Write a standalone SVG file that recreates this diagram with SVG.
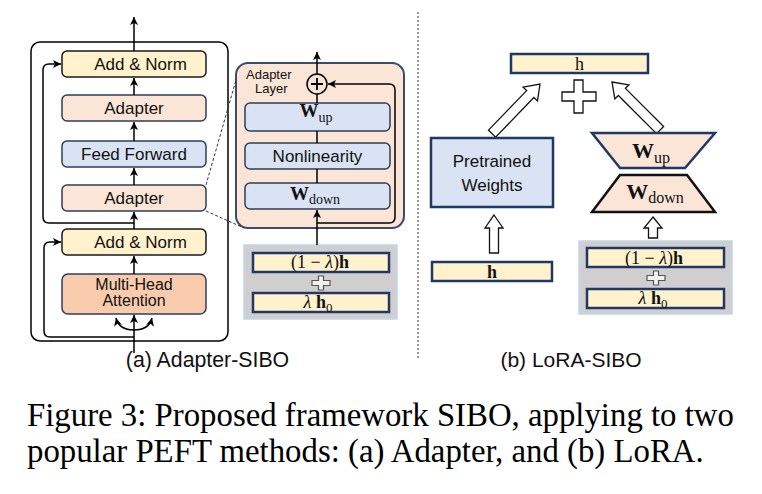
<svg xmlns="http://www.w3.org/2000/svg" width="762" height="494" viewBox="0 0 762 494">
<defs>
<marker id="ah" markerUnits="userSpaceOnUse" markerWidth="9" markerHeight="9" refX="8" refY="4" orient="auto">
<path d="M0,0 L8,4 L0,8 L2,4 z" fill="#000"/>
</marker>
</defs>
<style>
.bx{stroke:#2e3e5c;stroke-width:1.5}
.an{fill:#fff2cc;stroke:#1a1a1a;stroke-width:1.5}
.ad{fill:#fbe5d6}
.ff{fill:#dae3f3}
.t{font-family:"Liberation Sans",Arial,sans-serif;font-size:17px;fill:#111;text-anchor:middle}
.sub{font-family:"Liberation Sans",Arial,sans-serif;font-size:21.3px;fill:#111;text-anchor:middle}
.al{font-family:"Liberation Sans",Arial,sans-serif;font-size:13px;fill:#111}
.m{font-family:"Liberation Serif","Times New Roman",serif;fill:#111;text-anchor:middle}
.ln{fill:none;stroke:#000;stroke-width:1.5}
.hb{fill:#fff2cc;stroke:#203864;stroke-width:2.5}
.gr{fill:#d0cece;stroke:#bdd7ee;stroke-width:1.5}
.ho{fill:#fff;stroke:#111;stroke-width:1.3}
.pl{fill:#f2f2f2;stroke:#555;stroke-width:1.2}
.cap{font-family:"Liberation Serif","Times New Roman",serif;font-size:32.8px;fill:#000}
</style>
<rect width="762" height="494" fill="#fff"/>

<g id="adapter-block">
<rect x="31" y="42" width="197" height="299" rx="9" fill="none" stroke="#000" stroke-width="1.5"/>
</g>

<g id="add-norm-top">
<rect class="an" x="62" y="51" width="144" height="26" rx="5"/>
<text class="t" x="140.5" y="70">Add &amp; Norm</text>
</g>
<g id="adapter-top">
<rect class="bx ad" x="62" y="95" width="144" height="26" rx="5"/>
<text class="t" x="134" y="114">Adapter</text>
</g>
<g id="feed-forward">
<rect class="bx ff" x="62" y="141" width="144" height="26" rx="5"/>
<text class="t" x="134" y="160">Feed Forward</text>
</g>
<g id="adapter-bottom">
<rect class="bx ad" x="62" y="185" width="144" height="26" rx="5"/>
<text class="t" x="134" y="204">Adapter</text>
</g>
<g id="add-norm-bottom">
<rect class="an" x="62" y="229" width="144" height="26" rx="5"/>
<text class="t" x="140.5" y="248">Add &amp; Norm</text>
</g>
<g id="multi-head-attention">
<rect class="bx" fill="#f8cbad" x="62" y="274" width="144" height="40" rx="6"/>
<text class="t" style="font-size:16px" x="134" y="290">Multi-Head</text>
<text class="t" style="font-size:16px" x="134" y="306">Attention</text>
</g>

<g id="adapter-layer">
<rect x="236" y="63" width="168" height="165" rx="12" fill="#fbe5d6" stroke="#3b4b68" stroke-width="2"/>
<text class="al" x="246" y="79">Adapter</text>
<text class="al" x="255" y="93">Layer</text>
</g>
<g id="plus-circle">
<circle cx="317" cy="84" r="10" fill="#fbe5d6" stroke="#000" stroke-width="1.5"/>
<path d="M311,84 H323 M317,78 V90" stroke="#000" stroke-width="1.8"/>
</g>
<g id="w-up-a">
<rect class="bx ff" x="245" y="103" width="145" height="28" rx="5"/>
<text class="m" x="316" y="117"><tspan font-weight="bold" font-size="19">W</tspan><tspan font-size="14" dy="5">up</tspan></text>
</g>
<g id="nonlinearity">
<rect class="bx ff" x="245" y="143" width="145" height="26" rx="5"/>
<text class="t" x="317.5" y="162">Nonlinearity</text>
</g>
<g id="w-down-a">
<rect class="bx ff" x="245" y="183" width="145" height="26" rx="5"/>
<text class="m" x="315" y="200"><tspan font-weight="bold" font-size="19">W</tspan><tspan font-size="14" dy="4">down</tspan></text>
</g>

<g id="mix-a">
<rect class="gr" x="244" y="245" width="153" height="74"/>
<rect class="hb" x="253" y="253" width="136" height="19"/>
<text class="m" font-size="18" x="320" y="268">(1 − <tspan font-style="italic">λ</tspan>)<tspan font-weight="bold">h</tspan></text>
<polygon class="pl" points="318.5,276 323.5,276 323.5,280.5 330,280.5 330,285.5 323.5,285.5 323.5,290 318.5,290 318.5,285.5 312,285.5 312,280.5 318.5,280.5"/>
<rect class="hb" x="253" y="293" width="136" height="19"/>
<text class="m" font-size="18" x="318" y="308"><tspan font-style="italic">λ</tspan> <tspan font-weight="bold">h</tspan><tspan font-size="13" dy="4">0</tspan></text>
</g>

<g id="h-out">
<rect class="hb" x="511" y="54" width="137" height="19"/>
<text class="m" font-size="18" x="579.5" y="70">h</text>
</g>
<g id="big-plus">
<polygon class="ho" points="574,80 583,80 583,92 596,92 596,101 583,101 583,113 574,113 574,101 562,101 562,92 574,92" stroke-width="1.5"/>
</g>
<g id="hollow-arrows">
<polygon class="ho" transform="translate(540,84) rotate(44)" points="0,0 10,14 5,14 5,69 -5,69 -5,14 -10,14"/>
<polygon class="ho" transform="translate(612,82) rotate(-45)" points="0,0 10,14 5,14 5,68 -5,68 -5,14 -10,14"/>
<polygon class="ho" transform="translate(494,215)" points="0,0 9,13 4.5,13 4.5,38 -4.5,38 -4.5,13 -9,13"/>
<polygon class="ho" transform="translate(653,217)" points="0,0 9,11 4.5,11 4.5,21 -4.5,21 -4.5,11 -9,11"/>
</g>
<g id="pretrained-weights">
<rect x="431" y="138" width="122" height="69" fill="#dae3f3" stroke="#203864" stroke-width="2.5"/>
<text class="t" x="492" y="167">Pretrained</text>
<text class="t" x="492" y="191">Weights</text>
</g>
<g id="w-up-b">
<polygon points="592,133 715,133 685,168 620,168" fill="#fbe5d6" stroke="#203864" stroke-width="2.5"/>
<text class="m" x="651" y="158"><tspan font-weight="bold" font-size="22">W</tspan><tspan font-size="16" dy="5">up</tspan></text>
</g>
<g id="w-down-b">
<polygon points="620,175 687,175 715,212 592,212" fill="#fbe5d6" stroke="#111" stroke-width="2.5"/>
<text class="m" x="655" y="199"><tspan font-weight="bold" font-size="22">W</tspan><tspan font-size="16" dy="4">down</tspan></text>
</g>
<g id="h-in">
<rect class="hb" x="432" y="262" width="120" height="19"/>
<text class="m" font-size="18" font-weight="bold" x="492" y="278">h</text>
</g>
<g id="mix-b">
<rect class="gr" x="579" y="241" width="153" height="73"/>
<rect class="hb" x="587" y="248" width="137" height="19"/>
<text class="m" font-size="18" x="654" y="264">(1 − <tspan font-style="italic">λ</tspan>)<tspan font-weight="bold">h</tspan></text>
<polygon class="pl" points="653.5,271 658.5,271 658.5,275.5 665,275.5 665,280.5 658.5,280.5 658.5,285 653.5,285 653.5,280.5 647,280.5 647,275.5 653.5,275.5"/>
<rect class="hb" x="587" y="289" width="137" height="19"/>
<text class="m" font-size="18" x="653" y="304"><tspan font-style="italic">λ</tspan> <tspan font-weight="bold">h</tspan><tspan font-size="13" dy="4">0</tspan></text>
</g>

<g id="connectors">
<path class="ln" d="M134,51 V17" marker-end="url(#ah)"/>
<path class="ln" d="M134,95 V78" marker-end="url(#ah)"/>
<path class="ln" d="M134,141 V122" marker-end="url(#ah)"/>
<path class="ln" d="M134,185 V168" marker-end="url(#ah)"/>
<path class="ln" d="M134,229 V212" marker-end="url(#ah)"/>
<path class="ln" d="M134,274 V256" marker-end="url(#ah)"/>
<path class="ln" d="M134,223 H49 Q43,223 43,217 V70 Q43,64 49,64 H61" marker-end="url(#ah)"/>
<path class="ln" d="M134,337 H50 Q44,337 44,331 V248 Q44,242 50,242 H61" marker-end="url(#ah)"/>
<path class="ln" d="M134,353 V315" marker-end="url(#ah)"/>
<path class="ln" d="M134,330 C124,330 118,326 116,318" marker-end="url(#ah)"/>
<path class="ln" d="M134,330 C144,330 150,326 152,318" marker-end="url(#ah)"/>
<path fill="none" stroke="#333" stroke-width="1" stroke-dasharray="3 2" d="M206,185 L236,80"/>
<path fill="none" stroke="#333" stroke-width="1" stroke-dasharray="3 2" d="M206,211 L244,228"/>
<path class="ln" d="M317,74 V52" marker-end="url(#ah)"/>
<path class="ln" d="M317,94 V103"/>
<path class="ln" d="M317,131 V143"/>
<path class="ln" d="M317,169 V183"/>
<path class="ln" d="M317,245 V210" marker-end="url(#ah)"/>
<path class="ln" d="M317,223 H389 Q395,223 395,217 V90 Q395,84 389,84 H328" marker-end="url(#ah)"/>
<path fill="none" stroke="#333" stroke-width="1" stroke-dasharray="2 2" d="M418,12 V358"/>
</g>

<g id="captions">
<text class="sub" x="207.5" y="367">(a) Adapter-SIBO</text>
<text class="sub" style="font-size:21px" x="571" y="367">(b) LoRA-SIBO</text>
<text class="cap" x="27" y="426">Figure 3: Proposed framework SIBO, applying to two</text>
<text class="cap" x="27" y="462">popular PEFT methods: (a) Adapter, and (b) LoRA.</text>
</g>
</svg>
